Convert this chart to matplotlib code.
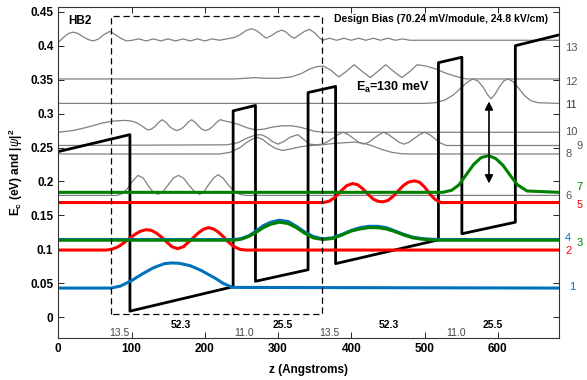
import matplotlib
matplotlib.use('Agg')
import matplotlib.pyplot as plt
import numpy as np

plt.rcParams['font.family'] = ['Liberation Sans', 'DejaVu Sans']
plt.rcParams['mathtext.fontset'] = 'custom'
plt.rcParams['mathtext.rm'] = 'Liberation Sans'
plt.rcParams['mathtext.bf'] = 'Liberation Sans:bold'
plt.rcParams['mathtext.it'] = 'Liberation Sans:italic'

# conduction band profile (z in Angstrom, E in eV)
z_cb = [0, 97.8, 97.8, 238.7, 238.7, 269.2, 269.2, 341, 341, 378.6, 378.6, 519, 519, 551, 551, 624, 624, 684]
E_cb = [0.244, 0.269, 0.009, 0.045, 0.304, 0.312, 0.053, 0.070, 0.331, 0.340, 0.079, 0.114, 0.375, 0.383, 0.123, 0.140, 0.400, 0.416]

# |psi|^2 offset by the level energy
z1 = [0, 72, 85, 100, 115, 130, 145, 155, 165, 180, 195, 205, 215, 225, 238, 684]
E1 = [.043, .043, .046, .054, .064, .073, .079, .080, .0795, .076, .069, .063, .057, .050, .044, .043]

z2 = [0, 66, 74, 82, 90, 98, 106, 113, 120, 127, 134, 141, 148, 155, 163, 171, 178, 185, 192, 199, 205, 212, 219, 226, 233, 240, 248, 256, 684]
E2 = [.099, .099, .1005, .104, .110, .117, .123, .127, .129, .128, .124, .118, .111, .104, .101, .104, .111, .118, .125, .130, .132, .130, .125, .118, .110, .104, .100, .099, .099]

z3 = [0, 240, 250, 260, 270, 280, 290, 302, 314, 325, 336, 348, 361, 374, 387, 400, 412, 424, 436, 448, 460, 472, 484, 496, 508, 520, 684]
E3 = [.1135, .1135, .115, .119, .125, .132, .137, .140, .138, .132, .124, .117, .1145, .116, .121, .127, .130, .132, .132, .130, .126, .121, .117, .115, .114, .1135, .1135]
E4 = [.1145, .1145, .116, .120, .127, .135, .140, .143, .141, .134, .126, .119, .1155, .117, .122, .128, .132, .134, .134, .132, .127, .122, .118, .116, .115, .1145, .1145]

z5 = [0, 362, 370, 378, 386, 394, 402, 409, 416, 423, 430, 436, 443, 450, 457, 464, 471, 478, 486, 493, 500, 507, 514, 522, 684]
E5 = [.169, .169, .171, .177, .186, .194, .197, .195, .189, .181, .174, .171, .170, .172, .178, .186, .194, .199, .201, .199, .192, .182, .174, .169, .169]

z6 = [0, 80, 87, 94, 101, 109, 116, 122, 129, 136, 143, 150, 157, 164, 171, 178, 186, 193, 199, 205, 212, 218, 225, 232, 240, 248, 256, 684]
E6 = [.1795, .1795, .182, .189, .200, .209, .205, .195, .185, .181, .185, .195, .205, .209, .205, .195, .185, .181, .185, .195, .205, .210, .205, .195, .186, .181, .1795, .1795]

z7 = [0, 525, 537, 547, 557, 567, 577, 587, 597, 607, 617, 627, 640, 684]
E7 = [.184, .184, .187, .195, .210, .225, .235, .238, .234, .224, .209, .195, .186, .184]

z8 = [0, 220, 235, 248, 258, 266, 272, 279, 287, 296, 306, 318, 330, 345, 360, 375, 390, 405, 418, 430, 442, 455, 468, 480, 684]
E8 = [.2405, .2405, .243, .250, .258, .263, .265, .262, .255, .249, .2456, .248, .251, .253, .254, .256, .257, .258, .256, .252, .247, .243, .241, .2405, .2405]

z9 = [0, 230, 245, 258, 268, 277, 285, 292, 300, 308, 316, 327, 335, 343, 352, 361, 368, 375, 382, 389, 396, 403, 410, 417, 424, 431, 438, 444, 451, 458, 465, 472, 479, 486, 493, 500, 507, 514, 521, 530, 684]
E9 = [.253, .254, .257, .264, .268, .269, .265, .259, .255, .259, .265, .269, .262, .255, .254, .255, .259, .2635, .269, .2725, .269, .2635, .258, .255, .258, .2635, .269, .2725, .269, .2635, .258, .255, .258, .2635, .269, .2725, .269, .263, .257, .253, .253]

z10 = [0, 20, 40, 60, 75, 90, 100, 108, 115, 122, 127, 132, 137, 142, 147, 152, 157, 162, 167, 172, 177, 182, 187, 192, 196, 201, 206, 211, 216, 221, 228, 236, 246, 258, 269, 280, 292, 305, 318, 330, 340, 350, 362, 684]
E10 = [.2725, .275, .280, .286, .289, .290, .289, .286, .281, .276, .277, .281, .287, .291, .287, .281, .277, .275, .277, .281, .287, .291, .287, .281, .277, .275, .277, .281, .287, .291, .289, .287, .284, .279, .276, .277, .280, .282, .282, .280, .277, .274, .2725, .2725]

z11 = [0, 500, 515, 528, 540, 550, 558, 566, 573, 580, 586, 591, 596, 602, 608, 614, 621, 628, 636, 645, 655, 684]
E11 = [.315, .315, .316, .320, .328, .338, .346, .351, .348, .339, .328, .322, .328, .339, .348, .351, .347, .338, .327, .319, .316, .315]

z12 = [0, 240, 255, 268, 282, 300, 318, 332, 342, 352, 362, 372, 383, 393, 404, 415, 426, 436, 447, 458, 469, 480, 490, 502, 515, 528, 542, 557, 684]
E12 = [.351, .351, .352, .353, .352, .352, .354, .359, .365, .369, .370, .364, .354, .362, .372, .362, .353, .362, .372, .362, .353, .362, .372, .370, .366, .360, .355, .351, .351]

z13 = [0, 8, 14, 20, 27, 34, 41, 48, 55, 62, 70, 77, 85, 93, 101, 110, 120, 130, 140, 150, 160, 170, 180, 190, 200, 210, 220, 230, 240, 248, 256, 264, 271, 278, 284, 291, 298, 305, 311, 317, 322, 329, 336, 343, 350, 356, 361, 370, 380, 390, 400, 410, 420, 430, 440, 450, 460, 470, 480, 500, 684]
E13 = [.405, .413, .418, .420, .418, .413, .409, .407, .410, .416, .421, .417, .411, .407, .408, .410, .407, .410, .407, .410, .407, .410, .407, .410, .407, .410, .408, .410, .412, .416, .422, .425, .422, .416, .411, .415, .420, .423, .420, .414, .411, .416, .421, .424, .419, .412, .408, .411, .408, .411, .408, .411, .408, .411, .408, .411, .408, .410, .408, .408, .408]

# state labels on the right
lab_txt = ['1', '2', '3', '4', '5', '6', '7', '8', '9', '10', '11', '12', '13']
lab_y = [0.044, 0.097, 0.109, 0.117, 0.166, 0.179, 0.192, 0.240, 0.252, 0.2725, 0.313, 0.346, 0.397]
lab_x = [698, 692, 707, 692, 707, 692, 707, 692, 707, 692, 692, 692, 692]
blue = '#0072BD'
gray = '#808080'
lab_col = [blue, 'red', 'green', blue, 'red', '#555555', 'green', '#555555', '#555555', '#555555', '#333333', '#555555', '#555555']

# layer thicknesses (monolayers) shown under the wells
layer_txt = ['13.5', '52.3', '11.0', '25.5', '13.5', '52.3', '11.0', '25.5']
layer_x = [84, 167, 254, 307, 370, 451, 543, 593]
layer_bold = [False, True, False, True, False, True, False, True]

fig = plt.figure(figsize=(5.87, 3.8), dpi=100)
ax = fig.add_axes([0.0993, 0.1097, 0.8535, 0.8719])

# thin gray levels
for z, E in [(z6, E6), (z8, E8), (z9, E9), (z10, E10), (z11, E11), (z12, E12), (z13, E13)]:
    ax.plot(z, E, color=gray, lw=0.9)

ax.plot(z_cb, E_cb, color='k', lw=2.0)

ax.plot(z1, E1, color=blue, lw=2.2)
ax.plot(z5, E5, color='red', lw=2.2)
ax.plot(z2, E2, color='red', lw=2.2)
ax.plot(z3, E4, color=blue, lw=2.2)
ax.plot(z3, E3, color='green', lw=2.2)
ax.plot(z7, E7, color='green', lw=2.2)

# dashed box = one module
ax.plot([72, 72, 360, 360, 72], [0.005, 0.444, 0.444, 0.005, 0.005], 'k--', lw=0.9, dashes=(5, 3))

# transition arrow
ax.annotate('', xy=(588, 0.322), xytext=(588, 0.193),
            arrowprops=dict(arrowstyle='<|-|>', color='k', lw=1.2, mutation_scale=12))

ax.text(407, 0.339, r'E$_\mathbf{a}$=130 meV', fontsize=9, fontweight='bold', va='center')
ax.text(13, 0.437, 'HB2', fontsize=8.5, fontweight='bold', va='center')
ax.text(377, 0.439, 'Design Bias (70.24 mV/module, 24.8 kV/cm)', fontsize=7.5, fontweight='bold', va='center')

for t, x, b in zip(layer_txt, layer_x, layer_bold):
    if b:
        ax.text(x, -0.012, t, fontsize=7.5, fontweight='bold', ha='center', va='center')
    else:
        ax.text(x, -0.023, t, fontsize=7.5, color='#444444', ha='center', va='center')

for t, x, y, c in zip(lab_txt, lab_x, lab_y, lab_col):
    ax.text(x, y, t, fontsize=8, color=c, va='center', ha='left', clip_on=False)

ax.set_xlim(0, 684)
ax.set_ylim(-0.031, 0.457)
ax.set_xticks(np.arange(0, 700, 100))
ax.set_xticklabels(['0', '100', '200', '300', '400', '500', '600'])
ax.set_yticks(np.arange(0, 0.46, 0.05))
ax.set_yticklabels(['0', '0.05', '0.1', '0.15', '0.2', '0.25', '0.3', '0.35', '0.4', '0.45'])
ax.tick_params(direction='in', top=True, right=True, labelsize=8.5, length=4, width=0.6)
for lbl in ax.get_xticklabels() + ax.get_yticklabels():
    lbl.set_fontweight('bold')
for s in ax.spines.values():
    s.set_color('#333333')
    s.set_linewidth(0.8)

ax.set_xlabel('z (Angstroms)', fontsize=8.5, fontweight='bold', labelpad=6)
ax.set_ylabel(r'E$_\mathbf{c}$ (eV) and |$\psi$|$^\mathbf{2}$', fontsize=8.5, fontweight='bold', labelpad=4)

fig.savefig('out.png', dpi=100)
